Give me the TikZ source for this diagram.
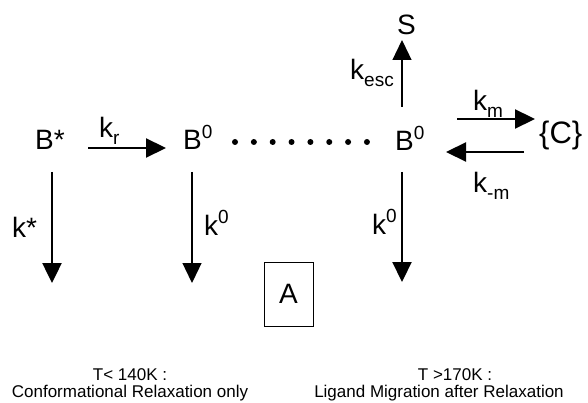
\documentclass[tikz,border=0pt]{standalone}
\usepackage{fontspec}
\setmainfont{Liberation Sans}
\usetikzlibrary{arrows.meta}
\newcommand\mysub[1]{\raisebox{-0.22em}{\fontsize{19}{19}\selectfont #1}}
\newcommand\mysup[1]{\raisebox{0.42em}{\fontsize{19}{19}\selectfont #1}}
\begin{document}
\begin{tikzpicture}[x=1pt,y=-1pt,
  lab/.style={inner sep=0pt, anchor=base west, font=\fontsize{28}{30}\selectfont},
  small/.style={inner sep=0pt, anchor=base, font=\fontsize{17}{20}\selectfont},
  arr/.style={-{Triangle[length=20pt,width=19pt]}, line width=2.2pt},
  thinarr/.style={-{Triangle[length=20pt,width=19pt]}, line width=1.3pt},
  dotmark/.style={circle, fill, inner sep=0pt, minimum size=6pt},
  boxA/.style={draw, line width=1pt, minimum width=49pt, minimum height=64pt, inner sep=0pt, font=\fontsize{28}{30}\selectfont}]
\path[use as bounding box] (0,0) rectangle (588,403);
% species
\node[lab] (Bs) at (35,150) {B*};
\node[lab] (B1) at (183,150) {B\mysup{0}};
\node[lab] (B2) at (395,151) {B\mysup{0}};
\node[lab] (S) at (397,35) {S};
\node[lab, font=\fontsize{31}{33}\selectfont] (C) at (539,144) {\{C\}};
% arrow end points
\coordinate (krT) at (88,148);   \coordinate (krH) at (166,148);
\coordinate (ksT) at (52,172);   \coordinate (ksH) at (52,283);
\coordinate (k1T) at (192,172);  \coordinate (k1H) at (192,283);
\coordinate (k2T) at (402,172);  \coordinate (k2H) at (402,282);
\coordinate (keT) at (402,107);  \coordinate (keH) at (402,40);
\coordinate (kmT) at (457,119);  \coordinate (kmH) at (535,119);
\coordinate (kbT) at (524,152);  \coordinate (kbH) at (446,152);
% arrows
\draw[arr] (krT) -- (krH);
\draw[arr, line width=2.5pt] (ksT) -- (ksH);
\draw[thinarr] (k1T) -- (k1H);
\draw[arr] (k2T) -- (k2H);
\draw[thinarr] (keT) -- (keH);
\draw[arr] (kmT) -- (kmH);
\draw[arr] (kbT) -- (kbH);
% rate labels
\node[lab] (lkr) at (99,138) {k\mysub{r}};
\node[lab] (lks) at (12,237) {k*};
\node[lab] (lk1) at (204,235) {k\mysup{0}};
\node[lab] (lk2) at (372,234) {k\mysup{0}};
\node[lab] (lke) at (350,80) {k\mysub{esc}};
\node[lab] (lkm) at (473,111) {k\mysub{m}};
\node[lab] (lkb) at (473,193) {k\mysub{-m}};
% dots
\foreach \i in {0,...,7} {
  \node[dotmark] (d\i) at ({235+18.85*\i},142) {};
}
% box A
\node[boxA] (A) at (288.5,294) {A};
% captions
\node[small] (t1a) at (130,380) {T< 140K :};
\node[small] (t1b) at (130,397) {Conformational Relaxation only};
\node[small] (t2a) at (455,380) {T >170K :};
\node[small] (t2b) at (439,397) {Ligand Migration after Relaxation};
\end{tikzpicture}
\end{document}
